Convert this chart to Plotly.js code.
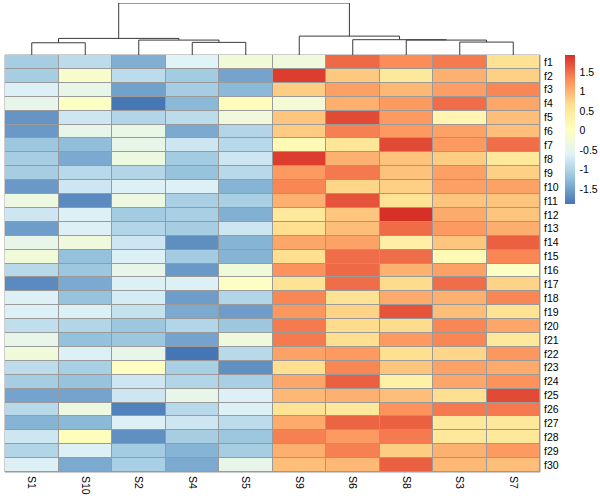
<!DOCTYPE html>
<html>
<head>
<meta charset="utf-8">
<script src="https://cdn.plot.ly/plotly-3.0.1.min.js"></script>
<style>html,body{margin:0;padding:0;background:#fff;}#chart{width:600px;height:500px;}</style>
</head>
<body>
<div id="chart"></div>
<script>
// Column order (as in the clustered heatmap) and row labels
const samples = ["S1","S10","S2","S4","S5","S9","S6","S8","S3","S7"];
const features = ["f1","f2","f3","f4","f5","f6","f7","f8","f9","f10",
  "f11","f12","f13","f14","f15","f16","f17","f18","f19","f20",
  "f21","f22","f23","f24","f25","f26","f27","f28","f29","f30"];

// Values per sample, f1..f30
const S1  = [-1.07,-1.07,-0.64,-0.45,-1.61,-1.57,-1.15,-1.07,-1.07,-1.57,-0.34,-0.76,-1.54,-0.45,-0.25,-0.93,-1.70,-0.64,-0.64,-0.86,-0.45,-0.25,-0.90,-1.07,-1.48,-0.93,-1.34,-0.76,-0.98,-0.64];
const S10 = [-0.90,-0.12,-0.45,-0.03,-0.76,-0.45,-1.25,-1.43,-0.93,-0.76,-1.70,-0.64,-0.64,-0.28,-1.22,-1.15,-1.43,-1.19,-0.64,-0.98,-1.22,-0.64,-1.05,-1.19,-1.48,-0.34,-1.29,0.07,-0.64,-1.43];
const S2  = [-1.38,-0.90,-1.50,-1.86,-0.98,-0.42,-0.45,-0.34,-0.98,-0.64,-0.34,-1.10,-0.98,-0.76,-0.64,-0.45,-0.64,-0.69,-0.83,-1.15,-1.15,-0.45,0.00,-0.76,-0.76,-1.77,-0.64,-1.65,-1.10,-1.05];
const S4  = [-0.60,-1.10,-1.07,-1.29,-0.90,-1.43,-0.76,-1.10,-1.19,-0.64,-1.05,-1.05,-1.07,-1.66,-1.10,-1.57,-0.64,-1.54,-1.43,-0.98,-1.48,-1.88,-1.05,-0.98,-0.45,-0.93,-0.76,-1.07,-1.34,-1.43];
const S5  = [-0.25,-1.48,-1.29,0.08,-0.28,-0.98,-0.93,-0.76,-0.93,-1.34,-1.05,-1.37,-0.76,-1.34,-1.34,-0.25,-0.02,-0.98,-1.54,-1.15,-0.28,-0.93,-1.65,-1.05,-0.64,-0.64,-0.90,-1.15,-1.07,-0.45];
const S9  = [-0.28,1.85,0.81,-0.20,0.87,0.83,0.15,1.85,1.20,1.35,1.03,0.50,0.66,1.11,0.66,1.26,0.60,1.35,1.23,1.43,1.43,1.14,0.66,1.11,0.97,0.60,1.07,1.39,1.04,0.93];
const S6  = [1.54,0.85,1.16,1.04,1.76,1.39,0.55,1.03,1.44,0.74,1.70,0.87,0.93,1.14,1.52,1.54,1.52,0.60,0.77,0.70,0.66,1.20,1.35,1.61,1.03,0.50,1.58,1.20,1.39,0.97];
const S8  = [1.30,0.50,0.97,1.20,1.20,1.20,1.76,0.90,0.90,0.79,0.60,1.94,1.53,0.37,1.52,1.03,0.70,1.07,1.70,0.70,1.20,0.66,0.87,0.34,0.93,1.26,1.61,1.43,0.81,1.61];
const S3  = [1.43,1.03,1.17,1.52,0.23,1.14,1.20,0.81,1.16,1.16,0.87,1.07,1.20,0.87,0.15,1.14,1.52,1.03,0.93,1.35,1.35,0.74,1.14,1.11,0.66,1.43,0.50,0.50,1.03,0.97];
const S7  = [0.62,0.79,1.35,1.11,0.93,0.93,1.52,0.50,0.79,1.14,0.87,0.87,1.05,1.61,1.35,-0.02,0.77,1.35,0.60,1.11,0.50,1.23,1.07,1.26,1.76,1.44,0.50,0.50,1.20,0.93];

// Column clustering: [left, right, merge height, node name]
const treeMerges = [
  ["S1","S10",12.3,"A"],
  ["S4","S5",12.7,"C"],
  ["S3","S7",13.0,"G"],
  ["S2","C",15.0,"B"],
  ["S8","G",15.0,"H"],
  ["S6","H",15.4,"D"],
  ["A","B",16.7,"L"],
  ["S9","D",19.0,"R"],
  ["L","R",52.3,"root"]
];
const treeTop = 52.3;

// Colour scale (reversed RdYlBu, 7 classes)
const palette = ["#4575B4","#91BFDB","#E0F3F8","#FFFFBF","#FEE090","#FC8D59","#D73027"];
const zMin = -1.88, zMax = 1.94;
const cbTicks = [-1.5,-1,-0.5,0,0.5,1,1.5];
const cbText = ["-1.5","-1","-0.5","0","0.5","1","1.5"];

const cols = [S1,S10,S2,S4,S5,S9,S6,S8,S3,S7];
const z = features.map((f,i) => cols.map(c => c[i]));
const colorscale = palette.map((c,i) => [i/(palette.length-1), c]);

// dendrogram segments computed from merges
const pos = {}, hgt = {};
samples.forEach((s,i) => { pos[s] = i; hgt[s] = 0; });
const dx = [], dy = [];
treeMerges.forEach(([a,b,h,name]) => {
  dx.push(pos[a], pos[a], pos[b], pos[b], null);
  dy.push(hgt[a], h, h, hgt[b], null);
  pos[name] = (pos[a] + pos[b]) / 2;
  hgt[name] = h;
});

const fontFam = "Liberation Sans, Arial, Helvetica, sans-serif";
const heatTop = 417/469;

const traces = [
  {
    type: "heatmap",
    x: samples, y: features, z: z,
    zmin: zMin, zmax: zMax,
    colorscale: colorscale,
    xgap: 1, ygap: 1,
    hoverongaps: false,
    colorbar: {
      x: 560/536, xanchor: "left", xpad: 0,
      y: heatTop, yanchor: "top", ypad: 0,
      thickness: 10, len: 149, lenmode: "pixels",
      outlinewidth: 0,
      tickmode: "array", tickvals: cbTicks, ticktext: cbText,
      ticks: "outside", ticklen: 3, tickcolor: "rgba(0,0,0,0)",
      tickfont: {family: fontFam, size: 10.5, color: "#000"}
    }
  },
  {
    type: "scatter", mode: "lines",
    x: dx, y: dy, xaxis: "x2", yaxis: "y2",
    line: {color: "#3a3a3a", width: 1},
    hoverinfo: "skip", showlegend: false
  }
];

const layout = {
  width: 600, height: 500,
  margin: {l: 5, r: 59, t: 3, b: 28},
  paper_bgcolor: "#fff", plot_bgcolor: "#fff",
  font: {family: fontFam, size: 10.5, color: "#000"},
  showlegend: false,
  xaxis: {
    domain: [0,1], anchor: "y", range: [-0.5, 9.5],
    tickangle: 90, ticks: "", showgrid: false, zeroline: false, showline: false,
    ticklabelstandoff: 3,
    tickfont: {family: fontFam, size: 10.5, color: "#000"}
  },
  yaxis: {
    domain: [0, heatTop], anchor: "x", autorange: "reversed",
    side: "right", ticks: "", showgrid: false, zeroline: false, showline: false,
    ticklabelstandoff: 3,
    tickfont: {family: fontFam, size: 10.5, color: "#000"}
  },
  xaxis2: {
    domain: [0,1], anchor: "y2", range: [-0.5, 9.5],
    showticklabels: false, ticks: "", showgrid: false, zeroline: false, showline: false
  },
  yaxis2: {
    domain: [heatTop, 1], anchor: "x2", range: [0, treeTop],
    showticklabels: false, ticks: "", showgrid: false, zeroline: false, showline: false
  },
  shapes: [{
    type: "rect", xref: "x domain", yref: "y domain",
    x0: 0, x1: 1, y0: 0, y1: 1,
    fillcolor: "#9a9a9a", line: {color: "#9a9a9a", width: 1}, layer: "below"
  }]
};

Plotly.newPlot("chart", traces, layout, {displayModeBar: false, staticPlot: true});
</script>
</body>
</html>
